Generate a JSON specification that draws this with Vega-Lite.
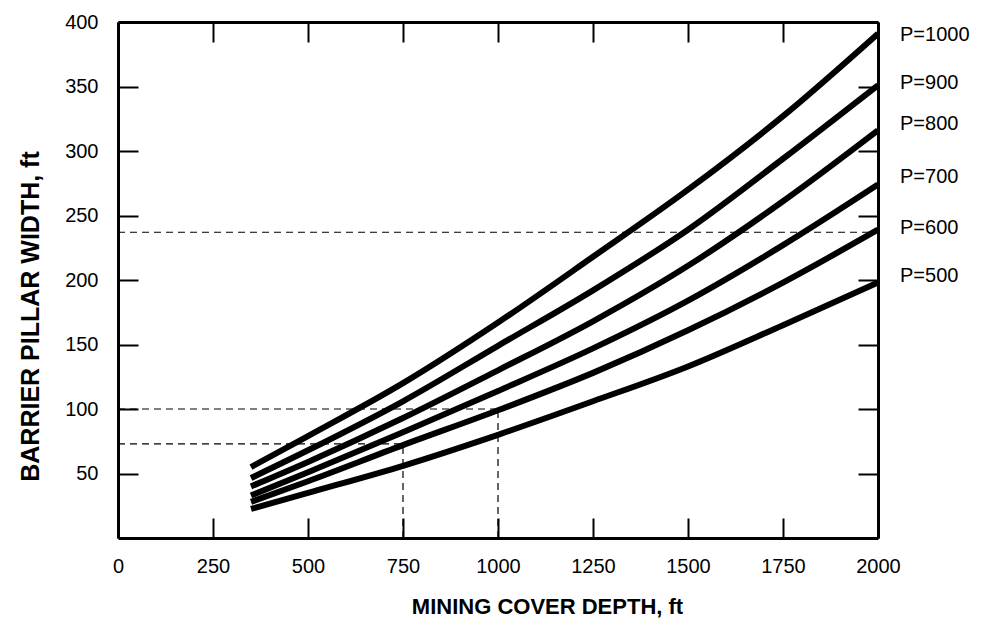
{
  "$schema": "https://vega.github.io/schema/vega-lite/v6.json",
  "width": 760,
  "height": 516,
  "autosize": {"type": "none"},
  "padding": {"left": 118, "top": 22, "right": 103, "bottom": 89},
  "background": "white",
  "config": {
    "view": {"stroke": null},
    "font": "Liberation Sans",
    "axis": {
      "grid": false,
      "domainColor": "black",
      "domainWidth": 3,
      "tickColor": "black",
      "tickWidth": 2,
      "tickSize": -20,
      "labelColor": "black",
      "labelFont": "Liberation Sans",
      "labelFontSize": 20,
      "titleColor": "black",
      "titleFont": "Liberation Sans",
      "titleFontWeight": "bold",
      "titleFontSize": 22
    }
  },
  "datasets": {
    "curves": [
      {"P": "1000", "depth": 350, "width": 55},
      {"P": "1000", "depth": 500, "width": 79},
      {"P": "1000", "depth": 750, "width": 120},
      {"P": "1000", "depth": 1000, "width": 167},
      {"P": "1000", "depth": 1250, "width": 218},
      {"P": "1000", "depth": 1500, "width": 270},
      {"P": "1000", "depth": 1750, "width": 327},
      {"P": "1000", "depth": 2000, "width": 391},
      {"P": "900", "depth": 350, "width": 46.5},
      {"P": "900", "depth": 500, "width": 68},
      {"P": "900", "depth": 750, "width": 106},
      {"P": "900", "depth": 1000, "width": 149},
      {"P": "900", "depth": 1250, "width": 192},
      {"P": "900", "depth": 1500, "width": 239},
      {"P": "900", "depth": 1750, "width": 294},
      {"P": "900", "depth": 2000, "width": 351},
      {"P": "800", "depth": 350, "width": 40},
      {"P": "800", "depth": 500, "width": 59},
      {"P": "800", "depth": 750, "width": 93},
      {"P": "800", "depth": 1000, "width": 130},
      {"P": "800", "depth": 1250, "width": 168},
      {"P": "800", "depth": 1500, "width": 211},
      {"P": "800", "depth": 1750, "width": 261},
      {"P": "800", "depth": 2000, "width": 316},
      {"P": "700", "depth": 350, "width": 33},
      {"P": "700", "depth": 500, "width": 51},
      {"P": "700", "depth": 750, "width": 82},
      {"P": "700", "depth": 1000, "width": 114},
      {"P": "700", "depth": 1250, "width": 147},
      {"P": "700", "depth": 1500, "width": 184},
      {"P": "700", "depth": 1750, "width": 227},
      {"P": "700", "depth": 2000, "width": 274},
      {"P": "600", "depth": 350, "width": 28},
      {"P": "600", "depth": 500, "width": 44},
      {"P": "600", "depth": 750, "width": 72},
      {"P": "600", "depth": 1000, "width": 99},
      {"P": "600", "depth": 1250, "width": 128},
      {"P": "600", "depth": 1500, "width": 161},
      {"P": "600", "depth": 1750, "width": 198},
      {"P": "600", "depth": 2000, "width": 239},
      {"P": "500", "depth": 350, "width": 22.5},
      {"P": "500", "depth": 500, "width": 35},
      {"P": "500", "depth": 750, "width": 56},
      {"P": "500", "depth": 1000, "width": 80},
      {"P": "500", "depth": 1250, "width": 106},
      {"P": "500", "depth": 1500, "width": 133},
      {"P": "500", "depth": 1750, "width": 165},
      {"P": "500", "depth": 2000, "width": 198}
    ],
    "guides": [
      {"x": 0, "x2": 2000, "y": 237, "y2": 237},
      {"x": 0, "x2": 1000, "y": 100, "y2": 100},
      {"x": 0, "x2": 750, "y": 73, "y2": 73},
      {"x": 750, "x2": 750, "y": 0, "y2": 73},
      {"x": 1000, "x2": 1000, "y": 0, "y2": 100}
    ],
    "labels": [
      {"label": "P=1000", "depth": 2000, "width": 390},
      {"label": "P=900", "depth": 2000, "width": 353},
      {"label": "P=800", "depth": 2000, "width": 321},
      {"label": "P=700", "depth": 2000, "width": 280},
      {"label": "P=600", "depth": 2000, "width": 240},
      {"label": "P=500", "depth": 2000, "width": 203}
    ]
  },
  "resolve": {"axis": {"x": "independent", "y": "independent"}},
  "layer": [
    {
      "data": {"name": "curves"},
      "mark": {"type": "line", "color": "black", "strokeWidth": 6, "strokeCap": "butt", "interpolate": "monotone", "clip": false},
      "encoding": {
        "x": {
          "field": "depth", "type": "quantitative",
          "scale": {"domain": [0, 2000], "nice": false},
          "axis": {
            "orient": "bottom",
            "values": [0, 250, 500, 750, 1000, 1250, 1500, 1750, 2000],
            "format": "d",
            "labelPadding": 38,
            "labelFlush": false,
            "title": "MINING COVER DEPTH, ft",
            "titleX": 429,
            "titleY": 75,
            "titleAlign": "center",
            "titleBaseline": "alphabetic"
          }
        },
        "y": {
          "field": "width", "type": "quantitative",
          "scale": {"domain": [0, 400], "nice": false},
          "axis": {
            "orient": "left",
            "values": [50, 100, 150, 200, 250, 300, 350, 400],
            "format": "d",
            "labelPadding": 40,
            "labelFlush": false,
            "title": "BARRIER PILLAR WIDTH, ft",
            "titleFontSize": 25,
            "titleX": -88,
            "titleY": 294,
            "titleAlign": "center",
            "titleBaseline": "middle",
            "titleAngle": -90
          }
        },
        "detail": {"field": "P", "type": "nominal"}
      }
    },
    {
      "data": {"name": "guides"},
      "mark": {"type": "rule", "color": "black", "strokeWidth": 1.2, "strokeDash": [7, 5]},
      "encoding": {
        "x": {
          "field": "x", "type": "quantitative",
          "axis": {
            "orient": "top",
            "values": [0, 250, 500, 750, 1000, 1250, 1500, 1750, 2000],
            "labels": false,
            "title": null
          }
        },
        "x2": {"field": "x2"},
        "y": {
          "field": "y", "type": "quantitative",
          "axis": {
            "orient": "right",
            "values": [50, 100, 150, 200, 250, 300, 350, 400],
            "labels": false,
            "title": null
          }
        },
        "y2": {"field": "y2"}
      }
    },
    {
      "data": {"name": "labels"},
      "mark": {"type": "text", "align": "left", "baseline": "middle", "dx": 22, "fontSize": 20, "font": "Liberation Sans", "color": "black"},
      "encoding": {
        "x": {"field": "depth", "type": "quantitative", "axis": null},
        "y": {"field": "width", "type": "quantitative", "axis": null},
        "text": {"field": "label"}
      }
    }
  ]
}
